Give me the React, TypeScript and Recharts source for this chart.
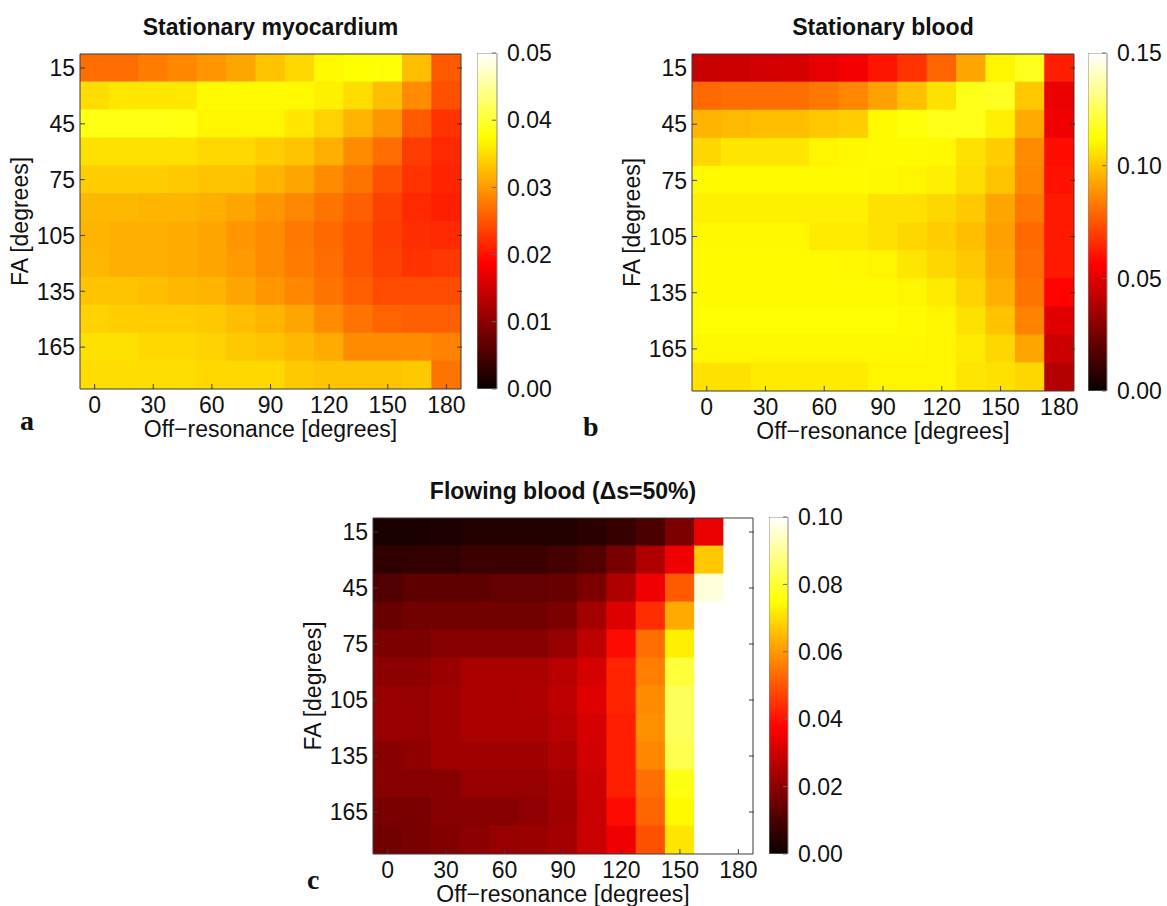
import React from 'react';
import { ScatterChart, Scatter, XAxis, YAxis, BarChart, Bar, Label } from 'recharts';

// ---------- data ----------
const OFF_RESONANCE = [0, 15, 30, 45, 60, 75, 90, 105, 120, 135, 150, 165, 180];
const FLIP_ANGLE = [15, 30, 45, 60, 75, 90, 105, 120, 135, 150, 165, 180];
const X_TICKS = [0, 30, 60, 90, 120, 150, 180];
const Y_TICKS = [15, 45, 75, 105, 135, 165];
const MYO_CB_TICKS = [0, 0.01, 0.02, 0.03, 0.04, 0.05];
const BLOOD_CB_TICKS = [0, 0.05, 0.1, 0.15];
const FLOW_CB_TICKS = [0, 0.02, 0.04, 0.06, 0.08, 0.1];

// rows = flip angle 15..180, columns = off-resonance 0..180
const MYOCARDIUM = [
  [0.0268, 0.0268, 0.0279, 0.0287, 0.0298, 0.0309, 0.0331, 0.0346, 0.0371, 0.0375, 0.0378, 0.0327, 0.0254],
  [0.0350, 0.0357, 0.0357, 0.0357, 0.0371, 0.0371, 0.0371, 0.0371, 0.0364, 0.0350, 0.0327, 0.0290, 0.0246],
  [0.0385, 0.0385, 0.0385, 0.0383, 0.0368, 0.0368, 0.0368, 0.0357, 0.0342, 0.0320, 0.0298, 0.0254, 0.0224],
  [0.0353, 0.0353, 0.0353, 0.0353, 0.0346, 0.0346, 0.0338, 0.0331, 0.0316, 0.0290, 0.0268, 0.0232, 0.0217],
  [0.0338, 0.0338, 0.0338, 0.0335, 0.0331, 0.0331, 0.0320, 0.0309, 0.0290, 0.0272, 0.0246, 0.0224, 0.0213],
  [0.0323, 0.0323, 0.0320, 0.0320, 0.0316, 0.0309, 0.0298, 0.0287, 0.0272, 0.0257, 0.0235, 0.0217, 0.0210],
  [0.0320, 0.0316, 0.0316, 0.0313, 0.0309, 0.0298, 0.0290, 0.0276, 0.0265, 0.0250, 0.0232, 0.0221, 0.0217],
  [0.0323, 0.0316, 0.0316, 0.0313, 0.0309, 0.0301, 0.0290, 0.0279, 0.0268, 0.0250, 0.0235, 0.0224, 0.0228],
  [0.0331, 0.0331, 0.0327, 0.0323, 0.0320, 0.0309, 0.0298, 0.0287, 0.0272, 0.0257, 0.0243, 0.0243, 0.0243],
  [0.0342, 0.0338, 0.0338, 0.0338, 0.0335, 0.0327, 0.0320, 0.0309, 0.0290, 0.0272, 0.0261, 0.0257, 0.0257],
  [0.0353, 0.0353, 0.0346, 0.0346, 0.0342, 0.0335, 0.0331, 0.0323, 0.0313, 0.0290, 0.0290, 0.0290, 0.0283],
  [0.0350, 0.0350, 0.0350, 0.0350, 0.0346, 0.0346, 0.0346, 0.0335, 0.0331, 0.0331, 0.0331, 0.0335, 0.0272],
];

const STATIONARY_BLOOD = [
  [0.0441, 0.0452, 0.0463, 0.0474, 0.0507, 0.0540, 0.0607, 0.0673, 0.0783, 0.0926, 0.1103, 0.1169, 0.0629],
  [0.0794, 0.0805, 0.0805, 0.0805, 0.0827, 0.0860, 0.0920, 0.0985, 0.1059, 0.1160, 0.1175, 0.1004, 0.0518],
  [0.0960, 0.0971, 0.0982, 0.0982, 0.1004, 0.1015, 0.1114, 0.1140, 0.1160, 0.1160, 0.1092, 0.0938, 0.0529],
  [0.1037, 0.1070, 0.1070, 0.1070, 0.1103, 0.1110, 0.1114, 0.1114, 0.1110, 0.1059, 0.1015, 0.0871, 0.0590],
  [0.1114, 0.1114, 0.1114, 0.1114, 0.1114, 0.1114, 0.1110, 0.1103, 0.1090, 0.1048, 0.0993, 0.0860, 0.0600],
  [0.1092, 0.1092, 0.1092, 0.1092, 0.1092, 0.1092, 0.1059, 0.1059, 0.1037, 0.1004, 0.0926, 0.0827, 0.0618],
  [0.1109, 0.1109, 0.1109, 0.1109, 0.1081, 0.1081, 0.1059, 0.1037, 0.1015, 0.0982, 0.0915, 0.0794, 0.0618],
  [0.1114, 0.1114, 0.1114, 0.1114, 0.1114, 0.1109, 0.1103, 0.1070, 0.1037, 0.1004, 0.0926, 0.0805, 0.0618],
  [0.1114, 0.1114, 0.1114, 0.1114, 0.1114, 0.1114, 0.1114, 0.1103, 0.1081, 0.1026, 0.0949, 0.0816, 0.0570],
  [0.1120, 0.1120, 0.1120, 0.1120, 0.1120, 0.1120, 0.1120, 0.1114, 0.1103, 0.1059, 0.0993, 0.0849, 0.0496],
  [0.1109, 0.1109, 0.1109, 0.1109, 0.1109, 0.1109, 0.1109, 0.1109, 0.1103, 0.1081, 0.1037, 0.0926, 0.0452],
  [0.1059, 0.1059, 0.1081, 0.1081, 0.1081, 0.1081, 0.1103, 0.1103, 0.1103, 0.1070, 0.1059, 0.1037, 0.0397],
];

const FLOWING_BLOOD = [
  [0.0040, 0.0040, 0.0044, 0.0051, 0.0051, 0.0051, 0.0051, 0.0066, 0.0081, 0.0110, 0.0184, 0.0346, 0.1050],
  [0.0070, 0.0074, 0.0074, 0.0088, 0.0088, 0.0088, 0.0103, 0.0125, 0.0176, 0.0257, 0.0353, 0.0669, 0.1050],
  [0.0118, 0.0140, 0.0140, 0.0140, 0.0147, 0.0147, 0.0154, 0.0184, 0.0257, 0.0353, 0.0507, 0.0966, 0.1050],
  [0.0154, 0.0169, 0.0169, 0.0169, 0.0169, 0.0169, 0.0184, 0.0243, 0.0324, 0.0441, 0.0625, 0.1050, 0.1050],
  [0.0184, 0.0184, 0.0199, 0.0199, 0.0199, 0.0199, 0.0221, 0.0279, 0.0390, 0.0537, 0.0728, 0.1050, 0.1050],
  [0.0206, 0.0206, 0.0228, 0.0250, 0.0250, 0.0250, 0.0272, 0.0316, 0.0426, 0.0559, 0.0809, 0.1050, 0.1050],
  [0.0221, 0.0221, 0.0235, 0.0250, 0.0250, 0.0257, 0.0279, 0.0331, 0.0426, 0.0581, 0.0838, 0.1050, 0.1050],
  [0.0221, 0.0221, 0.0235, 0.0250, 0.0250, 0.0250, 0.0272, 0.0316, 0.0419, 0.0588, 0.0838, 0.1050, 0.1050],
  [0.0199, 0.0213, 0.0235, 0.0235, 0.0235, 0.0235, 0.0257, 0.0309, 0.0419, 0.0574, 0.0828, 0.1050, 0.1050],
  [0.0199, 0.0199, 0.0199, 0.0221, 0.0221, 0.0221, 0.0243, 0.0301, 0.0419, 0.0537, 0.0770, 0.1050, 0.1050],
  [0.0176, 0.0176, 0.0199, 0.0199, 0.0199, 0.0213, 0.0235, 0.0294, 0.0390, 0.0522, 0.0743, 0.1050, 0.1050],
  [0.0169, 0.0176, 0.0191, 0.0206, 0.0221, 0.0228, 0.0243, 0.0294, 0.0353, 0.0492, 0.0713, 0.1050, 0.1050],
];

// ---------- styling ----------
const FONT = '"Liberation Sans", Arial, Helvetica, sans-serif';
const SERIF = '"Liberation Serif", "Times New Roman", serif';
const AXIS_COLOR = '#3a3a3a';
const TEXT_COLOR = '#111';
const TICK_FONT = 23;
const LABEL_FONT = 23;
const TITLE_FONT = 23;
const TICK_LEN = 5;

// MATLAB "hot" colormap
function hot(t: number): string {
  const c = Math.max(0, Math.min(1, t));
  const r = Math.min(1, c / 0.375);
  const g = Math.max(0, Math.min(1, (c - 0.375) / 0.375));
  const b = Math.max(0, Math.min(1, (c - 0.75) / 0.25));
  return `rgb(${Math.round(r * 255)},${Math.round(g * 255)},${Math.round(b * 255)})`;
}

function toCells(values: number[][]) {
  const out: { x: number; y: number; v: number }[] = [];
  FLIP_ANGLE.forEach((fa, i) => {
    OFF_RESONANCE.forEach((off, j) => {
      out.push({ x: off, y: fa, v: values[i][j] });
    });
  });
  return out;
}

const BottomTick = (props: any) => {
  const { x, y, payload } = props;
  return (
    <g>
      <line x1={x} y1={y} x2={x} y2={y - TICK_LEN} stroke={AXIS_COLOR} strokeWidth={1} />
      <text x={x} y={y + 24} textAnchor="middle" fontSize={TICK_FONT} fontFamily={FONT} fill={TEXT_COLOR}>
        {payload.value}
      </text>
    </g>
  );
};

const TopTick = (props: any) => {
  const { x, y } = props;
  return <line x1={x} y1={y} x2={x} y2={y + TICK_LEN} stroke={AXIS_COLOR} strokeWidth={1} />;
};

const LeftTick = (props: any) => {
  const { x, y, payload } = props;
  return (
    <g>
      <line x1={x} y1={y} x2={x + TICK_LEN} y2={y} stroke={AXIS_COLOR} strokeWidth={1} />
      <text x={x - 5} y={y} dy="0.36em" textAnchor="end" fontSize={TICK_FONT} fontFamily={FONT} fill={TEXT_COLOR}>
        {payload.value}
      </text>
    </g>
  );
};

const RightTick = (props: any) => {
  const { x, y } = props;
  return <line x1={x} y1={y} x2={x - TICK_LEN} y2={y} stroke={AXIS_COLOR} strokeWidth={1} />;
};

const ColorbarTick = (props: any) => {
  const { x, y, payload } = props;
  return (
    <g>
      <line x1={x - 1} y1={y} x2={x - 5} y2={y} stroke="#666" strokeWidth={1} />
      <text x={x + 10} y={y} dy="0.36em" textAnchor="start" fontSize={TICK_FONT} fontFamily={FONT} fill={TEXT_COLOR}>
        {Number(payload.value).toFixed(2)}
      </text>
    </g>
  );
};

type PanelProps = {
  id: string;
  title: string;
  letter: string;
  letterLeft: number;
  letterBaseline: number;
  plotLeft: number;
  plotTop: number;
  plotW: number;
  plotH: number;
  cbLeft: number;
  cbW: number;
  values: number[][];
  vmax: number;
  cbTicks: number[];
};

const Y_AXIS_W = 75;
const TOP_M = 50;
const X_AXIS_H = 62;
const RIGHT_M = 6;

function HeatPanel(p: PanelProps) {
  const data = toCells(p.values);
  const cw = p.plotW / OFF_RESONANCE.length;
  const ch = p.plotH / FLIP_ANGLE.length;
  const shape = (s: any) => (
    <rect
      x={s.cx - cw / 2 - 0.35}
      y={s.cy - ch / 2 - 0.35}
      width={cw + 0.7}
      height={ch + 0.7}
      fill={hot(s.payload.v / p.vmax)}
    />
  );
  const xDomain: [number, number] = [-7.5, 187.5];
  const yDomain: [number, number] = [7.5, 187.5];
  const gradId = `hot-${p.id}`;
  return (
    <>
      <div style={{ position: 'absolute', left: p.plotLeft - Y_AXIS_W, top: p.plotTop - TOP_M }}>
        <ScatterChart
          width={Y_AXIS_W + p.plotW + 1 + RIGHT_M}
          height={TOP_M + p.plotH + X_AXIS_H}
          margin={{ top: TOP_M - 1, right: RIGHT_M, bottom: 0, left: 0 }}
        >
          <Scatter
            data={data}
            xAxisId="b"
            yAxisId="l"
            shape={shape}
            isAnimationActive={false}
            zIndex={100}
          />
          <XAxis
            xAxisId="b"
            dataKey="x"
            type="number"
            domain={xDomain}
            ticks={X_TICKS}
            interval={0}
            allowDataOverflow
            height={X_AXIS_H}
            tickSize={0}
            tickMargin={0}
            tickLine={false}
            axisLine={{ stroke: AXIS_COLOR, strokeWidth: 1 }}
            tick={BottomTick}
            zIndex={1000}
          >
            <Label
              content={(lp: any) => {
                const vb = lp.viewBox || {};
                return (
                  <text
                    x={vb.x + vb.width / 2}
                    y={vb.y + 48}
                    textAnchor="middle"
                    fontSize={LABEL_FONT}
                    fontFamily={FONT}
                    fill={TEXT_COLOR}
                  >
                    Off−resonance [degrees]
                  </text>
                );
              }}
            />
          </XAxis>
          <XAxis
            xAxisId="t"
            orientation="top"
            type="number"
            domain={xDomain}
            ticks={X_TICKS}
            interval={0}
            allowDataOverflow
            height={1}
            tickSize={0}
            tickMargin={0}
            tickLine={false}
            axisLine={false}
            tick={TopTick}
            zIndex={1000}
          >
            <Label
              content={(lp: any) => {
                const vb = lp.viewBox || {};
                return (
                  <text
                    x={vb.x + vb.width / 2}
                    y={vb.y + vb.height - 18}
                    textAnchor="middle"
                    fontSize={TITLE_FONT}
                    fontWeight="bold"
                    fontFamily={FONT}
                    fill={TEXT_COLOR}
                  >
                    {p.title}
                  </text>
                );
              }}
            />
          </XAxis>
          <YAxis
            yAxisId="l"
            dataKey="y"
            type="number"
            domain={yDomain}
            reversed
            ticks={Y_TICKS}
            interval={0}
            allowDataOverflow
            width={Y_AXIS_W}
            tickSize={0}
            tickMargin={0}
            tickLine={false}
            axisLine={{ stroke: AXIS_COLOR, strokeWidth: 1 }}
            tick={LeftTick}
            zIndex={1000}
          >
            <Label
              content={(lp: any) => {
                const vb = lp.viewBox || {};
                const cx = vb.x + vb.width - 60;
                const cy = vb.y + vb.height / 2;
                return (
                  <text
                    x={cx}
                    y={cy}
                    dy="0.36em"
                    transform={`rotate(-90, ${cx}, ${cy})`}
                    textAnchor="middle"
                    fontSize={LABEL_FONT}
                    fontFamily={FONT}
                    fill={TEXT_COLOR}
                  >
                    FA [degrees]
                  </text>
                );
              }}
            />
          </YAxis>
          <YAxis
            yAxisId="r"
            orientation="right"
            type="number"
            domain={yDomain}
            reversed
            ticks={Y_TICKS}
            interval={0}
            allowDataOverflow
            width={1}
            tickSize={0}
            tickMargin={0}
            tickLine={false}
            axisLine={false}
            tick={RightTick}
            zIndex={1000}
          />
          <XAxis
            xAxisId="frameTop"
            orientation="top"
            type="number"
            domain={xDomain}
            allowDataOverflow
            height={1}
            tick={false}
            tickLine={false}
            axisLine={{ stroke: AXIS_COLOR, strokeWidth: 1 }}
            zIndex={1000}
          />
          <YAxis
            yAxisId="frameRight"
            orientation="right"
            type="number"
            domain={yDomain}
            allowDataOverflow
            width={1}
            tick={false}
            tickLine={false}
            axisLine={{ stroke: AXIS_COLOR, strokeWidth: 1 }}
            zIndex={1000}
          />
        </ScatterChart>
      </div>

      <div style={{ position: 'absolute', left: p.cbLeft, top: p.plotTop - 15 }}>
        <BarChart
          width={p.cbW + 76}
          height={p.plotH + 30}
          data={[{ k: 'cb', v: p.vmax }]}
          margin={{ top: 15, right: 75, bottom: 15, left: 0 }}
          barCategoryGap="0%"
        >
          <defs>
            <linearGradient id={gradId} x1="0" y1="1" x2="0" y2="0">
              <stop offset="0" stopColor="rgb(8,0,0)" />
              <stop offset="0.375" stopColor="rgb(255,0,0)" />
              <stop offset="0.75" stopColor="rgb(255,255,0)" />
              <stop offset="1" stopColor="rgb(255,255,255)" />
            </linearGradient>
          </defs>
          <XAxis dataKey="k" hide />
          <YAxis
            orientation="right"
            type="number"
            domain={[0, p.vmax]}
            ticks={p.cbTicks}
            interval={0}
            allowDataOverflow
            width={1}
            tickSize={0}
            tickMargin={0}
            tickLine={false}
            axisLine={false}
            tick={ColorbarTick}
          />
          <Bar dataKey="v" fill={`url(#${gradId})`} stroke="#8a8a8a" strokeWidth={1} isAnimationActive={false} />
        </BarChart>
      </div>

      <div
        style={{
          position: 'absolute',
          left: p.letterLeft,
          top: p.letterBaseline - 23.4,
          fontFamily: SERIF,
          fontWeight: 'bold',
          fontSize: 28,
          lineHeight: '28px',
          color: TEXT_COLOR,
        }}
      >
        {p.letter}
      </div>
    </>
  );
}

export default function App() {
  return (
    <div
      style={{
        position: 'absolute',
        left: 0,
        top: 0,
        width: 1167,
        height: 906,
        background: '#fff',
        overflow: 'hidden',
      }}
    >
      <HeatPanel
        id="a"
        title="Stationary myocardium"
        letter="a"
        letterLeft={20}
        letterBaseline={430}
        plotLeft={80}
        plotTop={53}
        plotW={382}
        plotH={336}
        cbLeft={477}
        cbW={20}
        values={MYOCARDIUM}
        vmax={0.05}
        cbTicks={MYO_CB_TICKS}
      />
      <HeatPanel
        id="b"
        title="Stationary blood"
        letter="b"
        letterLeft={583}
        letterBaseline={436}
        plotLeft={692}
        plotTop={53}
        plotW={383}
        plotH={338}
        cbLeft={1088}
        cbW={19}
        values={STATIONARY_BLOOD}
        vmax={0.15}
        cbTicks={BLOOD_CB_TICKS}
      />
      <HeatPanel
        id="c"
        title="Flowing blood (Δs=50%)"
        letter="c"
        letterLeft={307}
        letterBaseline={889}
        plotLeft={373}
        plotTop={517}
        plotW={381}
        plotH={337}
        cbLeft={769}
        cbW={19}
        values={FLOWING_BLOOD}
        vmax={0.1}
        cbTicks={FLOW_CB_TICKS}
      />
    </div>
  );
}
